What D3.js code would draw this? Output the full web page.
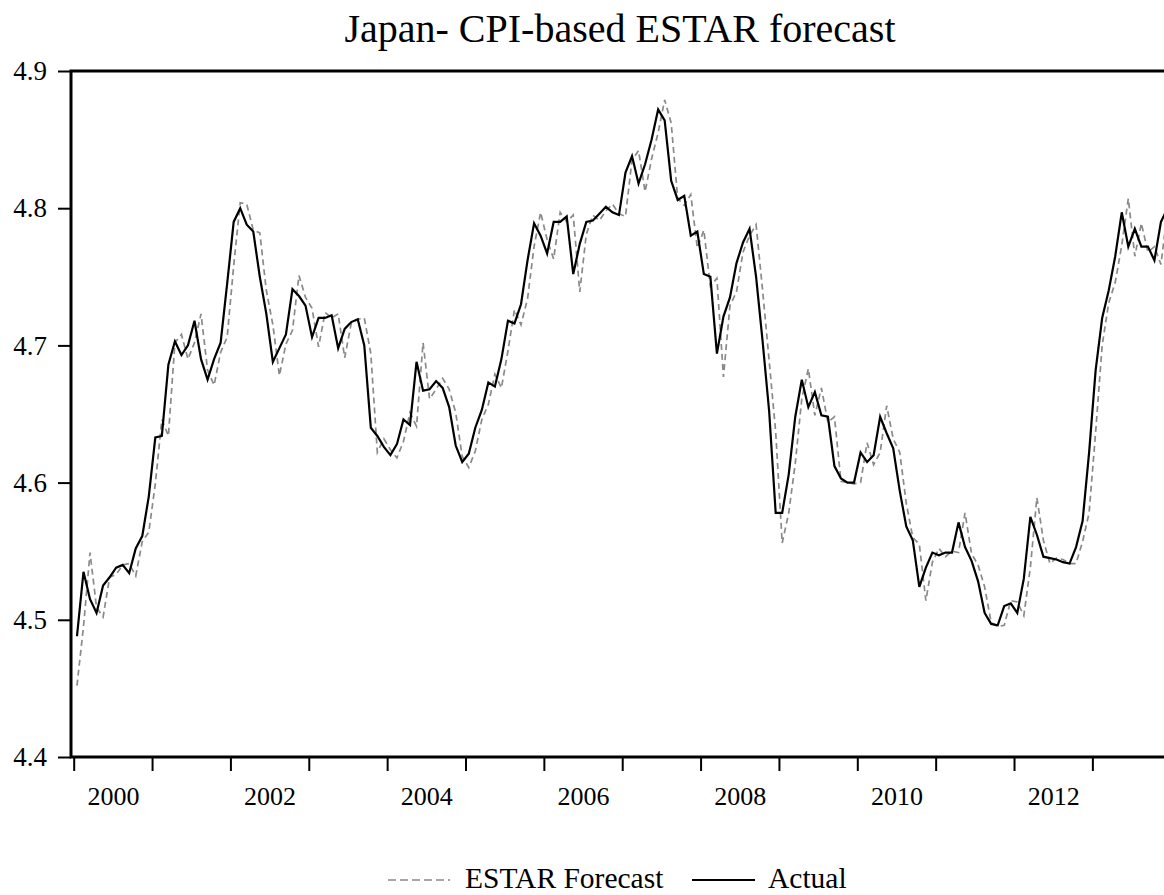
<!DOCTYPE html>
<html><head><meta charset="utf-8">
<script src="https://cdn.jsdelivr.net/npm/d3@7"></script>
<style>html,body{margin:0;padding:0;background:#fff;overflow:hidden}</style>
</head><body><svg id="c" width="1164" height="895"></svg>
<script>
const title = "Japan- CPI-based ESTAR forecast";
const startYear = 2000; // first observation 2000M01, monthly
const actual = [
4.488,4.535,4.515,4.505,4.525,4.531,4.538,4.540,4.534,4.552,4.561,4.590,
4.633,4.634,4.686,4.703,4.693,4.700,4.718,4.690,4.675,4.690,4.702,4.745,
4.790,4.800,4.788,4.783,4.750,4.723,4.688,4.698,4.708,4.741,4.736,4.729,
4.706,4.720,4.720,4.722,4.698,4.712,4.717,4.719,4.700,4.640,4.634,4.626,
4.620,4.628,4.646,4.642,4.688,4.667,4.668,4.674,4.669,4.655,4.627,4.615,
4.621,4.640,4.653,4.673,4.670,4.690,4.718,4.716,4.730,4.762,4.789,4.780,
4.767,4.790,4.790,4.794,4.752,4.774,4.790,4.791,4.796,4.801,4.797,4.795,
4.826,4.838,4.818,4.832,4.850,4.872,4.864,4.820,4.806,4.809,4.780,4.783,
4.752,4.750,4.694,4.721,4.735,4.760,4.775,4.785,4.750,4.703,4.652,4.578,
4.578,4.606,4.648,4.675,4.655,4.666,4.649,4.648,4.612,4.603,4.600,4.600,
4.622,4.615,4.620,4.648,4.636,4.625,4.594,4.568,4.558,4.524,4.538,4.549,
4.547,4.549,4.549,4.571,4.553,4.543,4.528,4.505,4.497,4.496,4.510,4.512,
4.505,4.530,4.575,4.562,4.546,4.545,4.544,4.542,4.541,4.553,4.572,4.622,
4.682,4.720,4.740,4.765,4.797,4.772,4.785,4.772,4.772,4.762,4.790,4.800
];
const forecast = [
4.452,4.495,4.549,4.509,4.502,4.531,4.533,4.540,4.541,4.532,4.557,4.564,
4.599,4.646,4.634,4.702,4.708,4.690,4.702,4.723,4.682,4.671,4.695,4.706,
4.758,4.804,4.803,4.784,4.782,4.740,4.715,4.678,4.701,4.711,4.751,4.735,
4.727,4.699,4.724,4.720,4.723,4.691,4.716,4.719,4.720,4.694,4.622,4.632,
4.624,4.618,4.630,4.651,4.641,4.702,4.661,4.668,4.676,4.668,4.651,4.619,
4.611,4.623,4.646,4.657,4.679,4.669,4.696,4.726,4.715,4.734,4.772,4.797,
4.777,4.763,4.797,4.790,4.795,4.739,4.781,4.795,4.791,4.798,4.803,4.796,
4.794,4.835,4.842,4.812,4.836,4.855,4.879,4.862,4.807,4.802,4.810,4.771,
4.784,4.743,4.749,4.677,4.729,4.739,4.768,4.780,4.788,4.740,4.689,4.637,
4.556,4.578,4.614,4.661,4.683,4.649,4.669,4.644,4.648,4.601,4.600,4.599,
4.600,4.629,4.613,4.622,4.656,4.632,4.622,4.585,4.560,4.555,4.514,4.542,
4.552,4.546,4.550,4.549,4.578,4.548,4.540,4.524,4.498,4.495,4.496,4.514,
4.513,4.503,4.538,4.589,4.558,4.541,4.545,4.544,4.541,4.541,4.557,4.578,
4.637,4.700,4.731,4.746,4.773,4.807,4.765,4.789,4.768,4.772,4.759,4.798
];
const yTicks = [4.4, 4.5, 4.6, 4.7, 4.8, 4.9];
const yearTicks = d3.range(2000, 2014);
const yearLabels = [2000, 2002, 2004, 2006, 2008, 2010, 2012];
const seriesNames = ["ESTAR Forecast", "Actual"];

const FONT = "'Liberation Serif','Times New Roman',serif";
const svg = d3.select("#c");
const frameL = 71, frameT = 71, frameB = 757, frameR = 1172;

const x = d3.scaleLinear().domain([2000, 2014]).range([73.7, 73.7 + 78.36 * 14]);
const y = d3.scaleLinear().domain([4.4, 4.9]).range([757, 71]);
const tOf = i => startYear + (i + 0.5) / 12;

// title
svg.append("text").attr("x", 620).attr("y", 42).attr("text-anchor", "middle")
  .attr("font-family", FONT).attr("font-size", 40).attr("fill", "#000").text(title);

// clip
svg.append("clipPath").attr("id", "clip").append("rect")
  .attr("x", frameL).attr("y", frameT).attr("width", frameR - frameL).attr("height", frameB - frameT);

const line = d3.line().x((d, i) => x(tOf(i))).y(d => y(d));
const g = svg.append("g").attr("clip-path", "url(#clip)");
g.append("path").datum(forecast).attr("d", line).attr("fill", "none")
  .attr("stroke", "#8a8a8a").attr("stroke-width", 1.7).attr("stroke-dasharray", "6,4");
g.append("path").datum(actual).attr("d", line).attr("fill", "none")
  .attr("stroke", "#000").attr("stroke-width", 2.2);

// y axis
const yAx = svg.append("g").attr("transform", `translate(${frameL},0)`)
  .call(d3.axisLeft(y).tickValues(yTicks).tickSize(13).tickPadding(11).tickFormat(d3.format(".1f")));
yAx.select(".domain").remove();
yAx.selectAll(".tick line").attr("stroke", "#000").attr("stroke-width", 2);
yAx.selectAll(".tick text").attr("font-family", FONT).attr("font-size", 27).attr("fill", "#000");

// x axis ticks
const xAx = svg.append("g").attr("transform", `translate(0,${frameB})`)
  .call(d3.axisBottom(x).tickValues(yearTicks).tickSize(14).tickFormat(""));
xAx.select(".domain").remove();
xAx.selectAll(".tick line").attr("stroke", "#000").attr("stroke-width", 2);
// x labels, centred in the year
const xLab = svg.append("g").attr("transform", `translate(0,${frameB})`)
  .call(d3.axisBottom(x).tickValues(yearLabels.map(v => v + 0.5)).tickSize(0).tickFormat(d => String(Math.floor(d))));
xLab.select(".domain").remove();
xLab.selectAll(".tick text").attr("y", 48).attr("dy", 0)
  .attr("font-family", FONT).attr("font-size", 26).attr("fill", "#000");

// frame
svg.append("rect").attr("x", frameL).attr("y", frameT).attr("width", frameR - frameL).attr("height", frameB - frameT)
  .attr("fill", "none").attr("stroke", "#000").attr("stroke-width", 3);

// legend
const lg = svg.append("g");
lg.append("line").attr("x1", 388).attr("x2", 450).attr("y1", 880).attr("y2", 880)
  .attr("stroke", "#8a8a8a").attr("stroke-width", 1.7).attr("stroke-dasharray", "8,4");
lg.append("text").attr("x", 465).attr("y", 888).attr("font-family", FONT).attr("font-size", 29.5)
  .attr("fill", "#000").text(seriesNames[0]);
lg.append("line").attr("x1", 692).attr("x2", 755).attr("y1", 880).attr("y2", 880)
  .attr("stroke", "#000").attr("stroke-width", 2);
lg.append("text").attr("x", 768).attr("y", 888).attr("font-family", FONT).attr("font-size", 29.5)
  .attr("fill", "#000").text(seriesNames[1]);
</script></body></html>
